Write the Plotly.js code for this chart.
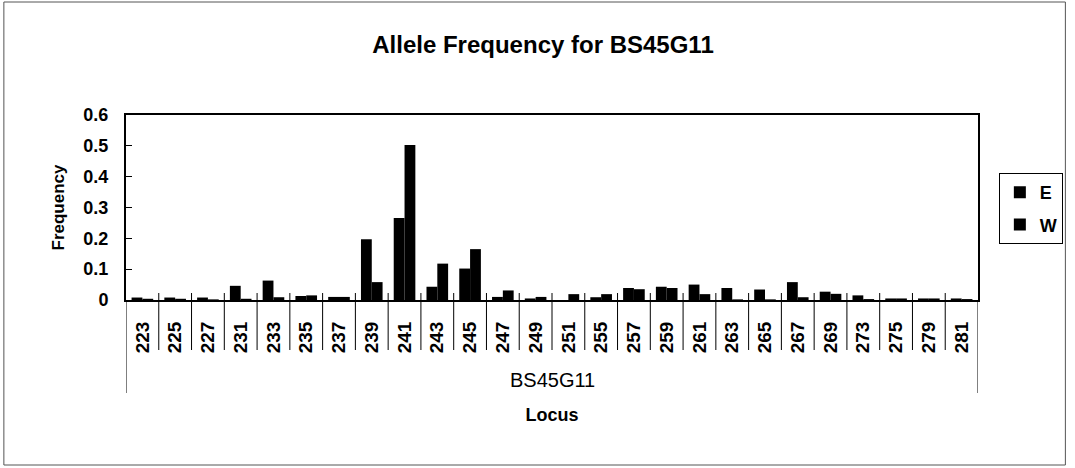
<!DOCTYPE html>
<html><head><meta charset="utf-8">
<script src="https://cdn.plot.ly/plotly-3.0.1.min.js"></script>
<style>html,body{margin:0;padding:0;background:#fff}#chart{width:1075px;height:468px}</style>
</head><body><div id="chart"></div>
<script>
const categories = ["223","225","227","231","233","235","237","239","241","243","245","247","249","251","255","257","259","261","263","265","267","269","273","275","279","281"];
const valuesE = [0.008,0.008,0.008,0.046,0.063,0.013,0.010,0.197,0.266,0.043,0.102,0.010,0.005,0.000,0.009,0.039,0.043,0.050,0.039,0.034,0.058,0.027,0.015,0.005,0.005,0.005];
const valuesW = [0.004,0.004,0.002,0.004,0.009,0.015,0.010,0.058,0.503,0.118,0.165,0.031,0.010,0.019,0.019,0.035,0.039,0.019,0.002,0.002,0.009,0.020,0.003,0.005,0.005,0.003];
const groupLabel = "BS45G11";
const seriesNames = ["E","W"];

const FONT = "Arial, 'Liberation Sans', sans-serif";
const plotTop = 115, plotBottom = 300, plotH = plotBottom - plotTop;
const py = p => (plotBottom - p) / plotH;   // pixel -> paper y
const plotL = 126, plotR = 984, plotW = plotR - plotL;
const px = p => (p - plotL) / plotW;

const shapes = [];
for (let i = 0; i <= categories.length; i++) {
  const outer = (i === 0 || i === categories.length);
  shapes.push({type:"line", xref:"x", yref:"paper", x0:i-0.5, x1:i-0.5,
    y0: outer ? 0 : py(293), y1: outer ? py(393) : py(350),
    line:{color:"#000", width:1}});
}
shapes.push({type:"rect", xref:"paper", yref:"paper", x0:px(3), x1:px(1072), y0:py(465), y1:py(2),
  line:{color:"#555", width:1}});

const traces = [
  {type:"bar", name:seriesNames[0], legendgroup:"a", x:categories, y:valuesE, marker:{color:"#000"}},
  {type:"bar", name:seriesNames[1], legendgroup:"b", x:categories, y:valuesW, marker:{color:"#000"}}
];

const layout = {
  width:1075, height:468,
  margin:{l:plotL, r:1075-plotR, t:plotTop, b:468-plotBottom},
  paper_bgcolor:"#fff", plot_bgcolor:"#fff",
  font:{family:FONT, color:"#000", size:18},
  title:{text:"<b>Allele Frequency for BS45G11</b>", font:{family:FONT, size:24, color:"#000"},
    x:543/1075, xanchor:"center", y:1-45/468, yanchor:"middle"},
  barmode:"group", bargap:0.34, bargroupgap:0,
  showlegend:true,
  legend:{x:px(1005), y:py(173), xanchor:"left", yanchor:"top",
    bordercolor:"#000", borderwidth:1, bgcolor:"#fff",
    font:{family:FONT, size:18, weight:"bold", color:"#000"},
    itemwidth:30, traceorder:"grouped", tracegroupgap:6},
  xaxis:{type:"category", tickangle:-90, showline:true, linecolor:"#000", linewidth:2, mirror:true,
    ticks:"outside", ticklen:12, tickcolor:"rgba(0,0,0,0)", showgrid:false, zeroline:false,
    tickfont:{family:FONT, size:19, weight:"bold", color:"#000"},
    title:{text:"<b>Locus</b>", font:{family:FONT, size:18, color:"#000"}, standoff:56},
    range:[-0.5, categories.length-0.5]},
  yaxis:{range:[0,0.6], dtick:0.1, showline:true, linecolor:"#000", linewidth:2, mirror:true,
    ticks:"inside", ticklen:6, tickcolor:"#000", showgrid:false, zeroline:false,
    ticklabelstandoff:12,
    tickfont:{family:FONT, size:18, weight:"bold", color:"#000"},
    title:{text:"<b>Frequency</b>", font:{family:FONT, size:17, color:"#000"}, standoff:14}},
  shapes:shapes,
  annotations:[{xref:"paper", yref:"paper", x:0.5, y:py(380), text:groupLabel, showarrow:false,
    font:{family:FONT, size:20, color:"#000"}, xanchor:"center", yanchor:"middle"}]
};

Plotly.newPlot("chart", traces, layout, {displayModeBar:false, staticPlot:true});
</script></body></html>
